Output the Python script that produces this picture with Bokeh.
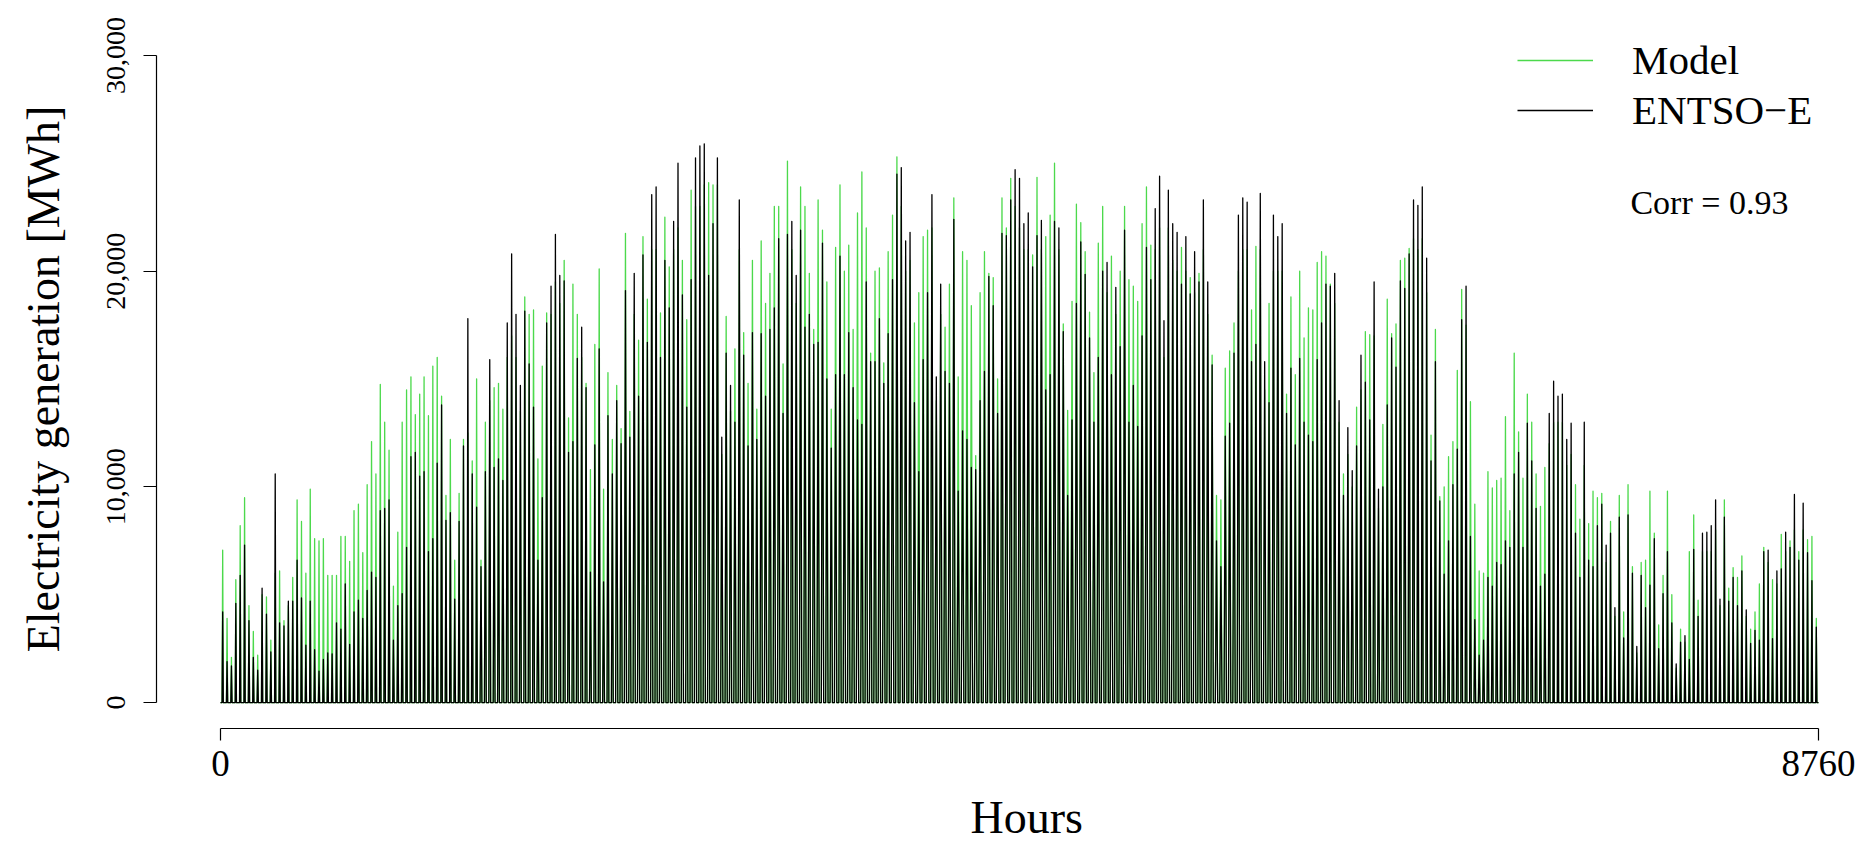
from bokeh.plotting import figure
from bokeh.models import Range1d, FixedTicker, NumeralTickFormatter, Legend, LegendItem, Label, Title
from bokeh.embed import file_html
from bokeh.resources import INLINE

# Daily peak hourly generation [thousand MWh], day 0..364
model_peak_k = [
    7.07, 3.9, 2.1, 5.7, 8.2, 9.5, 4.5, 3.3, 2.2, 5.0, 4.9, 2.9, 6.0, 6.1, 3.8, 4.5, 5.8, 9.4, 8.4, 6.0,
    9.9, 7.6, 7.5, 7.6, 5.9, 5.9, 5.9, 7.7, 7.7, 6.55, 8.9, 9.2, 6.95, 10.1, 12.1,
    10.6, 14.75, 13.0, 11.7, 5.4, 7.9, 13.0, 14.5, 15.1, 13.35, 14.3, 15.1, 13.3, 15.6, 16.0, 14.2, 9.6,
    12.2, 6.6, 9.7, 12.2, 12.5, 11.2, 15.0, 6.6, 13.0, 14.0, 14.6, 14.8, 13.6, 16.0, 17.0, 16.0, 13.5,
    18.8, 18.0, 18.2,
    11.3, 15.6, 18.06, 18.0, 19.5, 18.5, 20.5, 13.2, 19.4, 18.0, 16.0, 14.8, 10.8, 16.6, 20.1, 9.9,
    15.3, 12.2, 14.7, 12.7, 21.75, 13.5, 18.0, 16.8, 21.6, 18.7, 21.0, 21.0, 18.06, 22.5, 20.2, 21.0,
    22.0, 20.5, 17.75, 23.75, 23.0,
    23.0, 24.0, 24.1, 24.0, 24.0, 11.5, 17.9, 13.5, 16.4, 21.0, 17.15, 14.8, 20.5, 13.6, 21.4, 18.5,
    19.9, 23.0, 23.0, 15.7, 25.1, 21.0, 18.5, 23.9, 23.0, 19.9, 17.3, 23.3, 21.9, 19.5, 13.6, 21.1,
    24.0, 20.0, 21.2, 17.3, 22.7,
    24.6, 22.0, 16.2, 20.0, 20.15, 15.75, 20.9, 22.6, 25.3, 23.0, 20.0, 20.5, 17.6, 19.0, 21.6, 21.9,
    22.0, 14.0, 18.0, 17.4, 19.4, 23.4, 15.1, 20.9, 20.5, 18.4, 11.45, 19.0, 20.9, 19.9, 19.7, 15.0,
    23.4, 22.0, 24.3, 23.0,
    22.0, 21.0, 21.0, 20.75, 24.35, 21.0, 21.6, 22.6, 25.0, 21.0, 17.55, 13.55, 18.6, 23.1, 22.25,
    20.9, 18.1, 15.3, 21.3, 23.0, 19.0, 20.7, 18.0, 20.0, 23.0, 19.6, 19.3, 18.6, 22.2, 23.9, 21.2,
    21.0, 22.0, 16.0, 22.0, 20.5, 20.0,
    21.1, 20.0, 19.7, 19.0, 19.9, 21.0, 18.0, 16.1, 9.6, 9.4, 15.5, 16.3, 17.6, 20.0, 21.0, 21.0,
    18.2, 21.15, 21.0, 14.5, 18.5, 20.0, 20.0, 20.0, 14.3, 18.8, 15.2, 20.0, 16.9, 18.3, 18.2, 20.4,
    20.9, 20.7, 19.4, 18.5, 13.0,
    10.6, 11.5, 10.0, 13.7, 14.5, 17.2, 17.05, 17.0, 9.0, 12.9, 18.7, 17.1, 17.55, 20.5, 20.6, 21.05,
    21.5, 21.0, 21.5, 19.0, 12.4, 17.3, 9.55, 10.0, 11.4, 12.1, 15.4, 19.15, 17.5, 13.95, 9.2, 6.1,
    6.0, 10.7, 9.95, 10.3, 10.4,
    13.25, 8.9, 16.2, 12.55, 10.4, 14.3, 13.0, 10.6, 9.1, 10.9, 12.0, 13.0, 13.0, 13.0, 11.0, 11.5,
    10.1, 8.5, 11.0, 8.3, 9.8, 9.5, 9.7, 6.5, 8.4, 4.0, 9.6, 4.2, 10.1, 6.3, 2.3, 6.5, 6.6, 9.8, 7.85,
    3.6,
    5.9, 9.8, 5.0, 1.6, 3.4, 2.8, 7.0, 8.7, 4.75, 7.0, 7.0, 7.0, 8.0, 4.5, 9.4, 5.3, 6.25, 5.8, 6.8,
    4.0, 3.4, 4.2, 5.5, 7.2, 6.5, 5.7, 5.5, 7.8, 7.0, 7.5, 8.0, 7.0, 8.0, 7.55, 7.7, 3.9,
]

entsoe_peak_k = [
    4.2, 1.9, 1.7, 4.6, 5.9, 7.3, 3.8, 2.1, 1.5, 5.3, 4.1, 2.35, 10.6, 3.7, 3.55, 4.7, 4.7, 6.6, 4.85,
    2.66, 4.7, 2.45, 1.46, 2.0, 2.3, 2.26, 3.7, 3.4, 5.5, 2.7, 4.2, 4.75, 3.9, 5.2, 6.05,
    5.8, 8.9, 9.0, 9.4, 2.9, 4.5, 5.05, 7.2, 11.4, 11.6, 10.5, 10.7, 7.0, 7.6, 11.1, 13.8, 8.45, 8.8,
    4.8, 8.4, 11.9, 17.8, 10.6, 9.06, 6.3, 10.7, 15.9, 10.9, 11.3, 10.3, 17.6, 20.8, 18.0, 14.7,
    18.15, 15.7, 13.7,
    6.6, 9.5, 17.6, 19.3, 21.7, 19.8, 19.55, 11.6, 12.1, 15.95, 17.4, 14.6, 6.05, 11.95, 16.4, 5.6,
    13.3, 10.6, 14.0, 12.0, 19.1, 12.3, 19.9, 14.2, 20.75, 16.7, 23.55, 23.9, 16.0, 20.5, 18.3, 22.3,
    25.0, 18.9, 13.7, 19.6, 25.25,
    25.8, 25.9, 19.8, 22.2, 25.25, 12.3, 16.2, 14.7, 13.0, 23.3, 16.1, 11.9, 17.15, 12.2, 17.1, 14.2,
    17.3, 18.3, 21.5, 13.4, 21.7, 22.3, 19.8, 21.9, 17.4, 18.0, 16.6, 16.7, 21.3, 15.0, 11.8, 15.2,
    20.7, 15.2, 17.15, 14.6, 13.1,
    12.9, 19.5, 15.8, 15.8, 17.8, 14.8, 17.1, 19.6, 24.5, 24.8, 21.4, 21.8, 13.9, 10.7, 15.9, 19.0,
    23.55, 15.1, 19.4, 15.35, 14.8, 22.4, 9.8, 12.6, 12.2, 10.9, 10.8, 14.0, 15.35, 19.75, 18.4, 13.4,
    21.75, 21.65, 23.3, 24.7,
    24.3, 22.2, 22.7, 20.2, 21.65, 22.35, 14.5, 15.2, 22.3, 22.0, 17.2, 9.6, 13.1, 18.5, 21.35, 19.85,
    16.9, 13.0, 16.0, 20.0, 20.4, 15.2, 19.25, 16.5, 21.9, 13.0, 14.7, 12.8, 17.0, 21.1, 19.6, 22.9,
    24.4, 17.7, 23.75, 22.2, 21.8,
    19.4, 21.6, 18.95, 20.9, 19.5, 23.3, 19.5, 15.65, 7.5, 6.3, 12.35, 12.95, 16.2, 22.6, 23.4, 23.2,
    15.8, 16.6, 23.6, 15.8, 13.9, 22.6, 21.6, 22.2, 13.4, 15.5, 11.95, 15.95, 13.0, 12.4, 12.1, 15.9,
    17.6, 19.4, 19.3, 19.9, 14.0,
    9.6, 12.75, 10.75, 11.9, 16.1, 14.85, 13.1, 19.5, 9.9, 10.0, 13.8, 16.9, 15.55, 19.55, 19.2, 20.8,
    23.3, 23.05, 23.9, 20.6, 11.2, 15.8, 9.35, 5.95, 7.5, 10.1, 11.75, 17.75, 19.3, 7.7, 3.85, 2.2,
    2.9, 5.8, 5.4, 6.5, 6.4,
    7.5, 7.2, 10.6, 11.6, 7.2, 12.95, 11.2, 9.0, 5.4, 5.95, 13.4, 14.9, 14.2, 14.3, 12.2, 12.95, 7.85,
    5.8, 13.0, 6.6, 6.3, 8.2, 9.2, 7.3, 7.85, 4.4, 8.6, 3.0, 8.7, 6.0, 2.6, 5.9, 4.4, 5.45, 7.6, 2.5,
    5.05, 7.0, 3.7, 1.8, 2.8, 3.1, 2.0, 7.1, 4.0, 7.85, 7.9, 8.2, 9.4, 4.8, 8.6, 4.7, 5.8, 4.5, 6.1,
    4.3, 2.75, 3.35, 2.9, 7.0, 7.07, 2.97, 6.1, 6.2, 7.9, 7.2, 9.65, 6.6, 9.25, 6.95, 5.65, 3.5,
]

series_labels = ["Model", "ENTSO\u2212E"]
x_ticks = [0, 8760]
y_ticks = [0, 10000, 20000, 30000]
x_title = "Hours"
y_title = "Electricity generation [MWh]"
corr_text = "Corr = 0.93"

assert len(model_peak_k) == 365 and len(entsoe_peak_k) == 365

# shape of the daily generation spike (hours from noon to zero), by month
month_start_day = [0, 31, 59, 90, 120, 151, 181, 212, 243, 273, 304, 334]
half_span_h = [3.5, 4.0, 5.0, 6.0, 6.5, 7.0, 7.0, 6.5, 5.5, 4.5, 3.5, 3.5]


def day_half_span(d):
    m = 0
    for i, s in enumerate(month_start_day):
        if d >= s:
            m = i
    return half_span_h[m]


def spike_line(peaks_k):
    xs, ys = [0], [0]
    for d, pk in enumerate(peaks_k):
        hw = day_half_span(d)
        noon = d * 24 + 12
        xs += [noon - hw, noon, noon + hw]
        ys += [0, pk * 1000, 0]
    xs.append(8760)
    ys.append(0)
    return xs, ys


SERIF = "Liberation Serif"
GREEN = "#4cd94c"

p = figure(width=1860, height=855, output_backend="svg", toolbar_location=None,
           x_range=Range1d(-350.8, 8990.3), y_range=Range1d(-1200, 31200),
           min_border_left=156, min_border_right=0, min_border_top=29, min_border_bottom=127,
           background_fill_color="white", border_fill_color="white")
p.outline_line_color = None
p.grid.visible = False

mx, my = spike_line(model_peak_k)
ex, ey = spike_line(entsoe_peak_k)
r_model = p.line(mx, my, line_color=GREEN, line_width=1.3, line_join="round")
r_ent = p.line(ex, ey, line_color="black", line_width=1.3, line_join="round")

# axes
xa = p.xaxis[0]
xa.ticker = FixedTicker(ticks=x_ticks)
xa.bounds = (0, 8760)
xa.major_tick_out = 12
xa.major_tick_in = 0
xa.minor_tick_out = 0
xa.minor_tick_in = 0
xa.major_label_standoff = 10
xa.major_label_text_font = SERIF
xa.major_label_text_font_size = "37px"
xa.axis_line_width = 1.2
xa.major_tick_line_width = 1.2

ya = p.yaxis[0]
ya.ticker = FixedTicker(ticks=y_ticks)
ya.bounds = (0, 30000)
ya.formatter = NumeralTickFormatter(format="0,0")
ya.axis_label = y_title
ya.major_tick_out = 13
ya.major_tick_in = 0
ya.minor_tick_out = 0
ya.minor_tick_in = 0
ya.major_label_orientation = "vertical"
ya.major_label_standoff = 18
ya.axis_label_standoff = 36
ya.major_label_text_font = SERIF
ya.major_label_text_font_size = "28px"
ya.axis_label_text_font = SERIF
ya.axis_label_text_font_size = "46px"
ya.axis_label_text_font_style = "normal"
ya.axis_line_width = 1.2
ya.major_tick_line_width = 1.2

for ax in (xa, ya):
    ax.axis_line_color = "black"
    ax.major_tick_line_color = "black"
    ax.major_label_text_color = "black"
    ax.axis_label_text_color = "black"

# x axis title, centred on the whole plot region as in the original
hours = Title(text=x_title, align="left", offset=814, standoff=23,
              text_font=SERIF, text_font_size="46px", text_font_style="normal",
              text_color="black")
p.add_layout(hours, "below")

legend = Legend(items=[LegendItem(label=series_labels[0], renderers=[r_model]),
                       LegendItem(label=series_labels[1], renderers=[r_ent])],
                location=(1361, 593), orientation="vertical",
                glyph_width=76, glyph_height=50, label_height=50, label_standoff=39,
                spacing=0, padding=0, margin=0,
                label_text_font=SERIF, label_text_font_size="41px", label_text_color="black",
                border_line_color=None, background_fill_alpha=0)
p.add_layout(legend, "center")

corr = Label(x=7729, y=23200, text=corr_text, text_align="left", text_baseline="alphabetic",
             text_font=SERIF, text_font_size="34px", text_color="black")
p.add_layout(corr)

open("out.html", "w").write(file_html(p, INLINE))
